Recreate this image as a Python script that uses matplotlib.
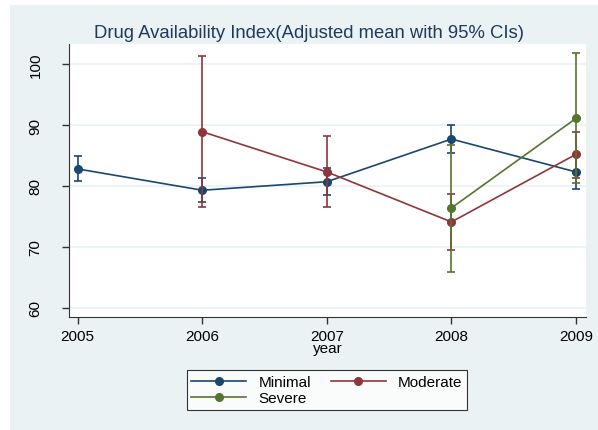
import matplotlib.pyplot as plt
from matplotlib.patches import Rectangle
from matplotlib.lines import Line2D

plt.rcParams['font.family'] = ['Liberation Sans', 'DejaVu Sans']

years = [2005, 2006, 2007, 2008, 2009]

# Minimal
min_years = [2005, 2006, 2007, 2008, 2009]
min_mean = [82.8, 79.3, 80.7, 87.7, 82.3]
min_lo = [80.8, 77.4, 78.5, 85.4, 79.5]
min_hi = [85.0, 81.3, 82.9, 90.0, 85.1]

# Moderate
mod_years = [2006, 2007, 2008, 2009]
mod_mean = [88.9, 82.3, 74.1, 85.2]
mod_lo = [76.6, 76.6, 69.5, 81.3]
mod_hi = [101.3, 88.2, 78.7, 88.9]

# Severe
sev_years = [2008, 2009]
sev_mean = [76.4, 91.1]
sev_lo = [65.9, 80.5]
sev_hi = [86.7, 101.8]

yticks = [60, 70, 80, 90, 100]

navy = '#1a476f'
maroon = '#90353b'
green = '#55752f'
bg = '#eaf2f3'

fig = plt.figure(figsize=(5.98, 4.31), dpi=100)
fig.patches.append(Rectangle((10 / 598, 0), 1 - 10 / 598, 1 - 6 / 431,
                             transform=fig.transFigure, facecolor=bg,
                             edgecolor='none', zorder=-10))
ax = fig.add_axes([69 / 598, 1 - 318 / 431, (586 - 69) / 598, (318 - 45) / 431])

series = [
    (min_years, min_mean, min_lo, min_hi, navy, 'Minimal'),
    (mod_years, mod_mean, mod_lo, mod_hi, maroon, 'Moderate'),
    (sev_years, sev_mean, sev_lo, sev_hi, green, 'Severe'),
]
for xs, m, lo, hi, c, name in series:
    yerr = [[mi - l for mi, l in zip(m, lo)], [h - mi for mi, h in zip(m, hi)]]
    ax.errorbar(xs, m, yerr=yerr, fmt='none', ecolor=c, elinewidth=1.2,
                capsize=3, capthick=1.2)
    ax.plot(xs, m, color=c, lw=1.2, marker='o', ms=5.5, label=name)

ax.set_xlim(2004.93, 2009.08)
ax.set_ylim(58.5, 103.3)
ax.set_xticks(years)
ax.set_yticks(yticks)
ax.tick_params(labelsize=11, color='#333333', length=5, width=1)
ax.yaxis.set_tick_params(pad=14)
for lab in ax.get_yticklabels():
    lab.set_rotation(90)
    lab.set_verticalalignment('center')
ax.grid(axis='y', color=bg, lw=1.2)
ax.set_axisbelow(True)
for s in ['top', 'right']:
    ax.spines[s].set_visible(False)
for s in ['left', 'bottom']:
    ax.spines[s].set_color('#333333')
ax.set_xlabel('year', fontsize=11, labelpad=-1)

fig.text(309 / 598, 1 - 34 / 431,
         'Drug Availability Index(Adjusted mean with 95% CIs)',
         ha='center', va='center', fontsize=13.3, color='#1e3a5f')

handles = [Line2D([], [], color=c, lw=1.2, marker='o', ms=5.5)
           for c in [navy, green, maroon]]
leg = fig.legend(handles, ['Minimal', 'Severe', 'Moderate'], ncol=2,
                 loc='center', bbox_to_anchor=(327 / 598, 1 - 391 / 431),
                 fontsize=11, frameon=True, fancybox=False,
                 handlelength=3.6, columnspacing=1.3, labelspacing=0.15,
                 borderpad=0.3, handletextpad=0.8)
leg.get_frame().set_edgecolor('black')
leg.get_frame().set_linewidth(0.8)

fig.savefig('out.png', dpi=100)
